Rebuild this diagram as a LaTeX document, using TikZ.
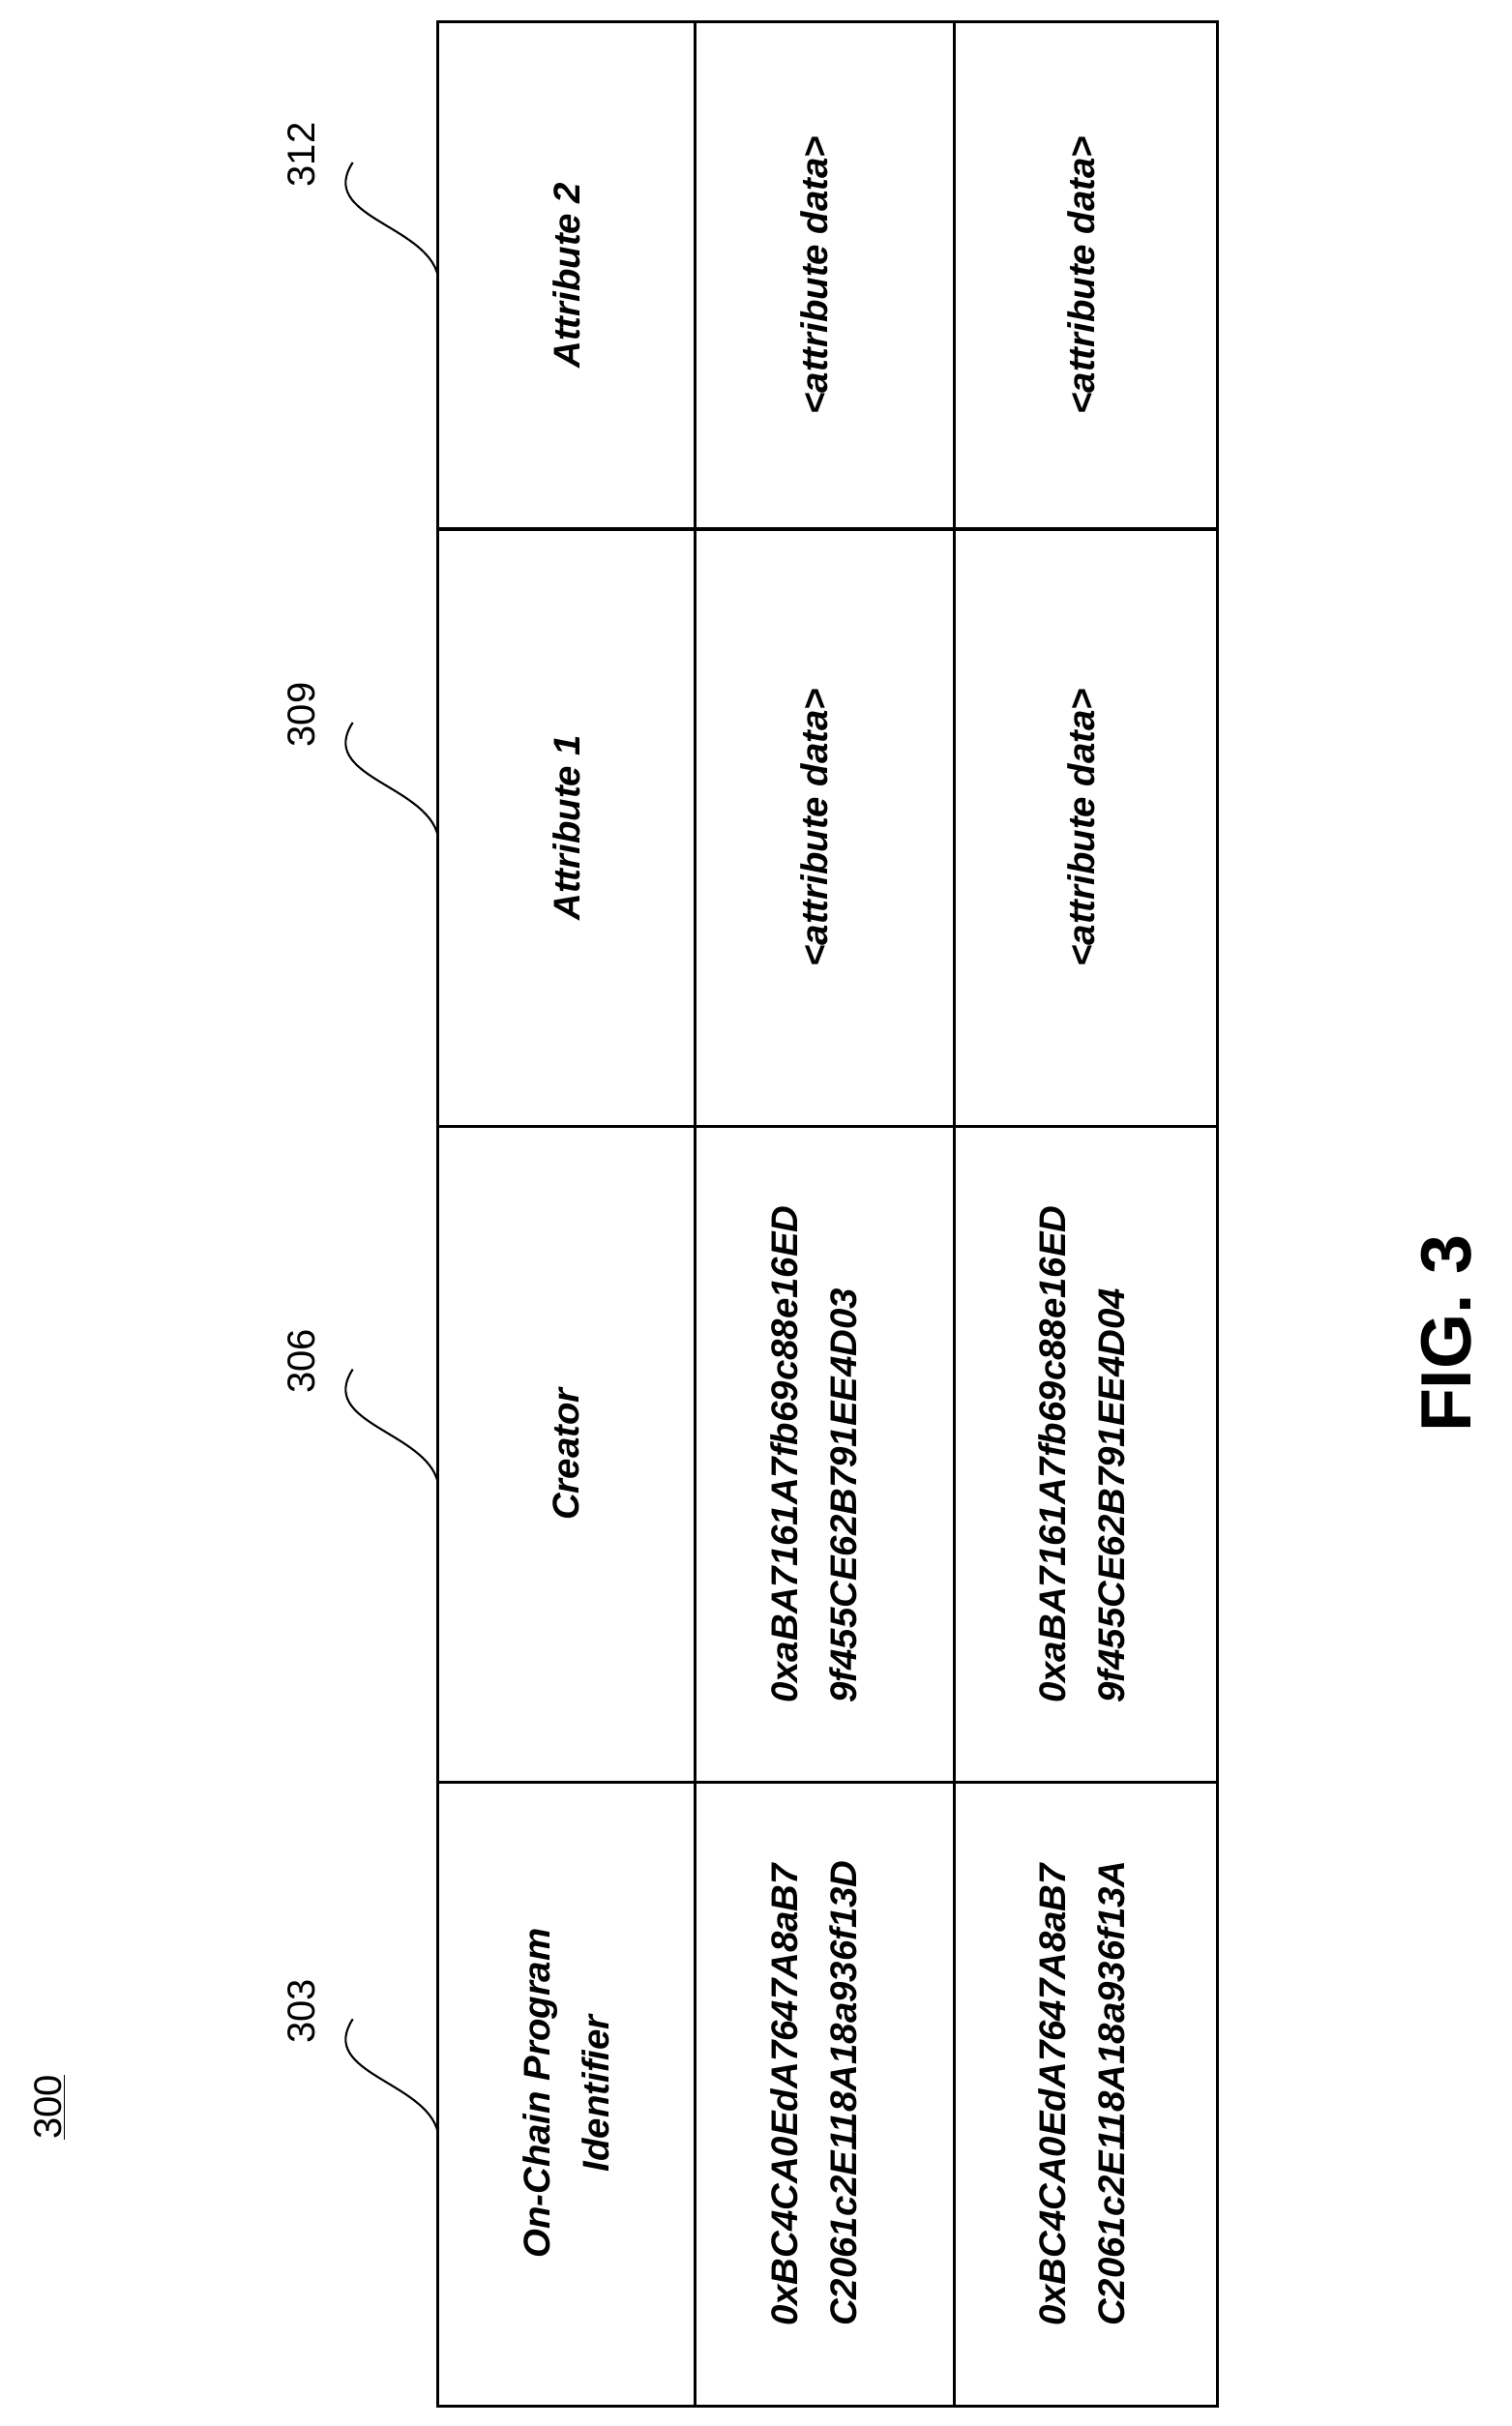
\documentclass[tikz,border=0pt]{standalone}
\usepackage{fontspec}
\setmainfont{Liberation Sans}
\usetikzlibrary{positioning}
\begin{document}
\begin{tikzpicture}[x=1pt,y=-1pt,
  cell/.style={rotate=90,align=center,font=\fontsize{24}{38}\selectfont\bfseries\itshape},
  hex/.style={cell,align=left},
  num/.style={rotate=90,font=\fontsize{25}{30}\selectfont},
  hook/.style={line width=1.3pt},
  grid/.style={line width=2pt}
]
\useasboundingbox (0,0) rectangle (977,1568);
% table
\draw[grid] (283,14) rectangle (787,1555);
\foreach \x in {449,617} \draw[grid] (\x,14) -- (\x,1555);
\foreach \y in {342,728,1152} \draw[grid] (283,\y) -- (787,\y);
% header row
\node[cell] (h303) at (366,1353) {On-Chain Program\\Identifier};
\node[cell] (h306) at (366,940) {Creator};
\node[cell] (h309) at (366,535) {Attribute 1};
\node[cell] (h312) at (366,178) {Attribute 2};
% data rows
\node[hex] (a303) at (526,1353) {0xBC4CA0EdA7647A8aB7\\C2061c2E118A18a936f13D};
\node[hex] (a306) at (526,940) {0xaBA7161A7fb69c88e16ED\\9f455CE62B791EE4D03};
\node[cell] (a309) at (526,535) {<attribute data>};
\node[cell] (a312) at (526,178) {<attribute data>};
\node[hex] (b303) at (699,1353) {0xBC4CA0EdA7647A8aB7\\C2061c2E118A18a936f13A};
\node[hex] (b306) at (699,940) {0xaBA7161A7fb69c88e16ED\\9f455CE62B791EE4D04};
\node[cell] (b309) at (699,535) {<attribute data>};
\node[cell] (b312) at (699,178) {<attribute data>};
% reference numerals
\node[num] (n300) at (32,1362) {\underline{300}};
\foreach \n/\y in {303/1300,306/880,309/462,312/100}{
  \node[num] (l\n) at (195,\y) {\n};
  \coordinate (s\n) at (228,\y+5);
  \coordinate (e\n) at (283,\y+78);
  \draw[hook] (s\n) .. controls (205,\y+40) and (275,\y+45) .. (e\n);
}
\node[rotate=90,font=\fontsize{46}{50}\selectfont\bfseries] (fig) at (935,862) {FIG. 3};
\end{tikzpicture}
\end{document}
